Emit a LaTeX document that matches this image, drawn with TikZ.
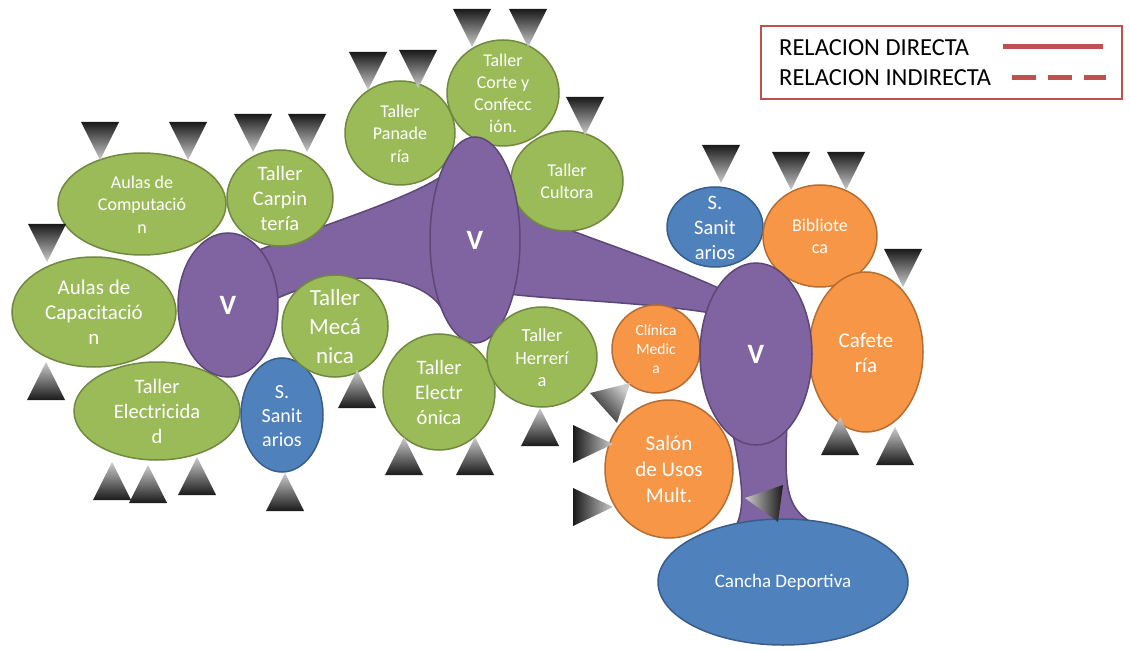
\documentclass[tikz,border=0pt]{standalone}
\usepackage{fontspec}
\setmainfont{Carlito}
\usepackage{tikz}
\usetikzlibrary{shapes.geometric, backgrounds}

\definecolor{verde}{HTML}{9BBB59}
\definecolor{verdeborde}{HTML}{71893F}
\definecolor{naranja}{HTML}{F79646}
\definecolor{naranjaborde}{HTML}{B66D31}
\definecolor{azul}{HTML}{4F81BD}
\definecolor{azulborde}{HTML}{385D8A}
\definecolor{morado}{HTML}{8064A2}
\definecolor{moradoborde}{HTML}{5C4776}
\definecolor{leyenda}{HTML}{C0504D}

% texto centrado que no agranda la elipse
\newcommand{\rotulo}[1]{\makebox[0pt]{\raisebox{-.37em}[0pt][0pt]{\begin{tabular}{@{}c@{}}#1\end{tabular}}}}

\begin{document}
\begin{tikzpicture}[x=1pt, y=-1pt,
  zona/.style={ellipse, inner sep=0pt, outer sep=0pt, line width=1.5pt, text=white},
  taller/.style={zona, fill=verde, draw=verdeborde},
  servicio/.style={zona, fill=naranja, draw=naranjaborde},
  sanitario/.style={zona, fill=azul, draw=azulborde},
  vestibulo/.style={zona, fill=morado, draw=moradoborde, font=\fontsize{28}{32}\selectfont\bfseries},
  pasillo/.style={fill=morado, draw=moradoborde, line width=1.5pt},
  letra/.style 2 args={font=\fontsize{#1}{#2}\selectfont},
  tam/.style 2 args={minimum width=#1pt, minimum height=#2pt},
  bajo/.style={top color=black!90, bottom color=black!20},
  alto/.style={top color=black!20, bottom color=black!90}]
  \useasboundingbox (0,0) rectangle (1130,652);

  % zonas
  \node[taller, tam={168}{102}, letra={18}{22.5}] (comp) at (142,204) {\rotulo{Aulas de\\Computació\\n}};
  \node[taller, tam={106}{96}, letra={20.5}{25}] (carp) at (280,198) {\rotulo{Taller\\Carpin\\tería}};
  \node[taller, tam={164}{110}, letra={21}{25}] (capa) at (94,312) {\rotulo{Aulas de\\Capacitació\\n}};
  \node[taller, tam={166}{98}, letra={20.5}{25}] (elec) at (157,411) {\rotulo{Taller\\Electricida\\d}};
  \node[vestibulo, tam={100}{144}] (vA) at (228,305) {V};
  \node[sanitario, tam={82}{114}, letra={20}{24}] (sanA) at (282,415) {\rotulo{S.\\Sanit\\arios}};
  \node[taller, tam={106}{102}, letra={23}{29}] (meca) at (335,326) {\rotulo{Taller\\Mecá\\nica}};
  \node[taller, tam={110}{104}, letra={18}{22.5}] (pana) at (400,133) {\rotulo{Taller\\Panade\\ría}};
  \node[taller, tam={112}{106}, letra={18}{22}] (corte) at (503,93) {\rotulo{Taller\\Corte y\\Confecc\\ión.}};
  \node[taller, tam={112}{100}, letra={18}{22}] (cult) at (567,181) {\rotulo{Taller\\Cultora}};
  \node[vestibulo, tam={90}{206}] (vB) at (475,240) {V};
  \node[taller, tam={112}{116}, letra={20.5}{25}] (elnc) at (439,392) {\rotulo{Taller\\Electr\\ónica}};
  \node[taller, tam={110}{100}, letra={18.5}{22.5}] (herr) at (542,357) {\rotulo{Taller\\Herrerí\\a}};
  \node[servicio, tam={88}{88}, letra={15.5}{19}] (clin) at (656,349) {\rotulo{Clínica\\Medic\\a}};
  \node[sanitario, tam={96}{80}, letra={20.5}{25}] (sanB) at (715,227) {\rotulo{S.\\Sanit\\arios}};
  \node[servicio, tam={114}{102}, letra={18}{22}] (bibl) at (820,236) {\rotulo{Bibliote\\ca}};
  \node[servicio, tam={114}{160}, letra={21}{25}] (cafe) at (866,352) {\rotulo{Cafete\\ría}};
  \node[vestibulo, tam={112}{182}] (vC) at (756,354) {V};
  \node[servicio, tam={128}{138}, letra={21}{26}] (salon) at (669,469) {\rotulo{Salón\\de Usos\\Mult.}};
  \node[sanitario, tam={250}{126}, letra={19}{23}] (cancha) at (783,582) {Cancha Deportiva};

  % pasillos
  \begin{scope}[on background layer]
    \draw[pasillo] (vA.60) .. controls (320,226) and (400,202) .. (vB.120)
      -- (vB.243) .. controls (420,276) and (350,266) .. (vA.8) -- cycle;
    \draw[pasillo] (vB.40) .. controls (560,232) and (620,244) .. (vC.120)
      -- (vC.140) .. controls (640,302) and (560,300) .. (vB.305) -- cycle;
    \draw[pasillo] (vC.255) .. controls (742,480) and (745,505) .. (cancha.128)
      -- (cancha.68) .. controls (785,505) and (785,480) .. (vC.292) -- cycle;
  \end{scope}

  % accesos
  \foreach \x/\y in {100/160, 188/160, 253/152, 307/152, 47/262, 368/90, 418/88, 472/47,
                     528/47, 585/135, 721/183, 791/190, 846/190, 903/287}
    \shade[bajo] (\x-19,\y-38) -- (\x+19,\y-38) -- (\x,\y) -- cycle;
  \foreach \x/\y in {46/362, 112/462, 148/465, 197/457, 285/473, 357/370, 404/437,
                     475/437, 540/408, 840/417, 895/427}
    \shade[alto] (\x,\y) -- (\x+19,\y+38) -- (\x-19,\y+38) -- cycle;
  \foreach \y in {444, 507}
    \shade[left color=black!90, right color=black!20] (573,\y-19) -- (613,\y) -- (573,\y+19) -- cycle;
  \shade[top color=black!20, bottom color=black!90, shading angle=-47] (630,383) -- (617,423) -- (590,393) -- cycle;
  \shade[left color=black!20, right color=black!90] (745,498) -- (783,485) -- (778,522) -- cycle;

  % leyenda
  \draw[leyenda, line width=2pt] (761,26) rectangle (1122,99);
  \node[anchor=west, inner sep=0pt, letra={24.5}{28}] (directa) at (779,48) {RELACION DIRECTA};
  \node[anchor=west, inner sep=0pt, letra={24.5}{28}] (indirecta) at (779,78) {RELACION INDIRECTA};
  \draw[leyenda, line width=5pt] (1003,47) -- (1103,47);
  \draw[leyenda, line width=5pt, dash pattern=on 24pt off 12pt] (1012,78) -- (1106,78);
\end{tikzpicture}
\end{document}
